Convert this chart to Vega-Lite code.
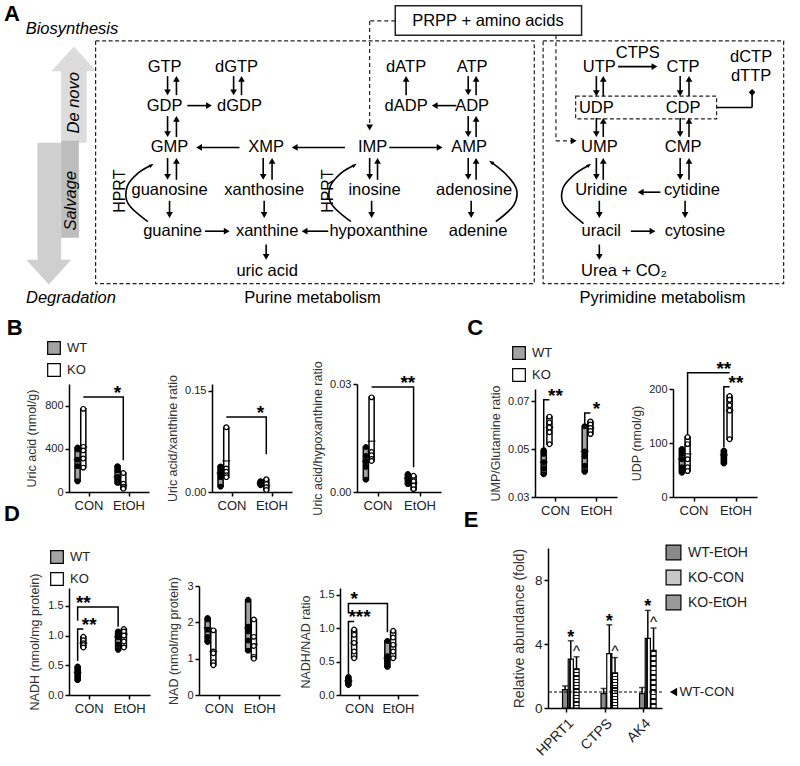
{
"$schema":"https://vega.github.io/schema/vega-lite/v6.json",
"background":"white",
"padding":0,
"config":{
 "view":{"stroke":null},
 "font":"Liberation Sans",
 "axis":{"domainColor":"black","domainWidth":1.5,"tickColor":"black","tickWidth":1.5,"tickSize":4,"labelColor":"#222","titleColor":"#333","labelFont":"Liberation Sans","titleFont":"Liberation Sans","titleFontWeight":"normal","grid":false,"labelFontSize":11,"titleFontSize":12.5},
 "legend":{"labelFontSize":13,"symbolType":"square","symbolSize":160,"symbolStrokeColor":"black","symbolStrokeWidth":1.2,"rowPadding":4,"padding":0,"labelFont":"Liberation Sans","labelColor":"#222","labelOffset":6},
 "tick":{"size":8}
},
"resolve":{"scale":{"fill":"independent","color":"independent","shape":"independent"},"legend":{"fill":"independent","color":"independent","shape":"independent"}},
"datasets":{
 "alabels":[
  {"k":"node","t":"GTP","x":167,"y":70},{"k":"node","t":"dGTP","x":240,"y":70},{"k":"node","t":"dATP","x":412,"y":70},{"k":"node","t":"ATP","x":479,"y":70},
  {"k":"node","t":"GDP","x":167,"y":111},{"k":"node","t":"dGDP","x":243,"y":111},{"k":"node","t":"dADP","x":412,"y":111},{"k":"node","t":"ADP","x":479,"y":111},
  {"k":"node","t":"GMP","x":172,"y":155},{"k":"node","t":"XMP","x":270,"y":155},{"k":"node","t":"IMP","x":378,"y":155},{"k":"node","t":"AMP","x":476,"y":155},
  {"k":"node","t":"guanosine","x":172,"y":200},{"k":"node","t":"xanthosine","x":268,"y":200},{"k":"node","t":"inosine","x":380,"y":200},{"k":"node","t":"adenosine","x":481,"y":200},
  {"k":"node","t":"guanine","x":175,"y":243},{"k":"node","t":"xanthine","x":271,"y":243},{"k":"node","t":"hypoxanthine","x":384,"y":243},{"k":"node","t":"adenine","x":485,"y":243},
  {"k":"node","t":"uric acid","x":271,"y":285},
  {"k":"node","t":"UTP","x":608,"y":70},{"k":"node","t":"CTP","x":693,"y":70},{"k":"node","t":"dCTP","x":762,"y":60},{"k":"node","t":"dTTP","x":762,"y":80},
  {"k":"node","t":"UDP","x":605,"y":113},{"k":"node","t":"CDP","x":693,"y":113},
  {"k":"node","t":"UMP","x":608,"y":155},{"k":"node","t":"CMP","x":693,"y":155},
  {"k":"node","t":"Uridine","x":610,"y":200},{"k":"node","t":"cytidine","x":702,"y":200},
  {"k":"node","t":"uracil","x":610,"y":243},{"k":"node","t":"cytosine","x":705,"y":243},
  {"k":"node","t":"Urea + CO₂","x":633,"y":285},
  {"k":"node","t":"CTPS","x":647,"y":56},
  {"k":"node","t":"PRPP + amino acids","x":495,"y":22},
  {"k":"node","t":"Purine metabolism","x":317,"y":313},
  {"k":"node","t":"Pyrimidine metabolism","x":672,"y":313},
  {"k":"ital","t":"Biosynthesis","x":73,"y":31},
  {"k":"ital","t":"Degradation","x":72,"y":313},
  {"k":"rotital","t":"De novo","x":75,"y":108},
  {"k":"rotital","t":"Salvage","x":72,"y":211},
  {"k":"rot","t":"HPRT","x":122,"y":201},
  {"k":"rot","t":"HPRT","x":333,"y":201},
  {"k":"letter","t":"A","x":12,"y":15},
  {"k":"letter","t":"B","x":15,"y":345},
  {"k":"letter","t":"C","x":482,"y":345},
  {"k":"letter","t":"D","x":12,"y":540},
  {"k":"letter","t":"E","x":478,"y":547}
 ],
 "shapes":[
  {"part":"biosynthesis","x":62,"x2":88,"y":74,"y2":150},
  {"part":"degradation","x":38,"x2":62,"y":150,"y2":274},
  {"part":"salvage","x":62,"x2":80,"y":148,"y2":250}
 ],
 "bighead":[{"part":"biosynthesis","x":75,"y":62},{"part":"degradation","x":49.5,"y":286}],
 "frames":[
  {"kind":"dashed","x":97,"x2":542,"y":43,"y2":298},
  {"kind":"dashed","x":551,"x2":795,"y":43,"y2":298},
  {"kind":"dashed","x":584,"x2":727,"y":101,"y2":125},
  {"kind":"solid","x":401,"x2":590,"y":6,"y2":37}
 ],
 "arrows":[
  {"x1":170,"y1":80,"x2":170,"y2":97,"dir":"down","ln":"solid"},{"x1":179,"y1":100,"x2":179,"y2":83,"dir":"up","ln":"solid"},
  {"x1":237,"y1":80,"x2":237,"y2":97,"dir":"down","ln":"solid"},{"x1":245,"y1":100,"x2":245,"y2":83,"dir":"up","ln":"solid"},
  {"x1":170,"y1":122,"x2":170,"y2":141,"dir":"down","ln":"solid"},{"x1":179,"y1":144,"x2":179,"y2":125,"dir":"up","ln":"solid"},
  {"x1":170,"y1":166,"x2":170,"y2":186,"dir":"down","ln":"solid"},{"x1":179,"y1":189,"x2":179,"y2":169,"dir":"up","ln":"solid"},
  {"x1":267,"y1":166,"x2":267,"y2":186,"dir":"down","ln":"solid"},{"x1":276,"y1":189,"x2":276,"y2":169,"dir":"up","ln":"solid"},
  {"x1":375,"y1":166,"x2":375,"y2":186,"dir":"down","ln":"solid"},{"x1":383,"y1":189,"x2":383,"y2":169,"dir":"up","ln":"solid"},
  {"x1":475,"y1":80,"x2":475,"y2":97,"dir":"down","ln":"solid"},{"x1":483,"y1":100,"x2":483,"y2":83,"dir":"up","ln":"solid"},
  {"x1":475,"y1":122,"x2":475,"y2":141,"dir":"down","ln":"solid"},{"x1":483,"y1":144,"x2":483,"y2":125,"dir":"up","ln":"solid"},
  {"x1":475,"y1":166,"x2":475,"y2":186,"dir":"down","ln":"solid"},{"x1":483,"y1":189,"x2":483,"y2":169,"dir":"up","ln":"solid"},
  {"x1":605,"y1":80,"x2":605,"y2":98,"dir":"down","ln":"solid"},{"x1":612,"y1":101,"x2":612,"y2":83,"dir":"up","ln":"solid"},
  {"x1":690,"y1":80,"x2":690,"y2":98,"dir":"down","ln":"solid"},{"x1":699,"y1":101,"x2":699,"y2":83,"dir":"up","ln":"solid"},
  {"x1":605,"y1":124,"x2":605,"y2":141,"dir":"down","ln":"solid"},{"x1":612,"y1":144,"x2":612,"y2":127,"dir":"up","ln":"solid"},
  {"x1":690,"y1":124,"x2":690,"y2":141,"dir":"down","ln":"solid"},{"x1":699,"y1":144,"x2":699,"y2":127,"dir":"up","ln":"solid"},
  {"x1":605,"y1":166,"x2":605,"y2":186,"dir":"down","ln":"solid"},{"x1":612,"y1":189,"x2":612,"y2":169,"dir":"up","ln":"solid"},
  {"x1":690,"y1":166,"x2":690,"y2":186,"dir":"down","ln":"solid"},{"x1":699,"y1":189,"x2":699,"y2":169,"dir":"up","ln":"solid"},
  {"x1":190,"y1":111,"x2":212,"y2":111,"dir":"right","ln":"solid"},
  {"x1":463,"y1":111,"x2":441,"y2":111,"dir":"left","ln":"solid"},
  {"x1":412,"y1":100,"x2":412,"y2":83,"dir":"up","ln":"solid"},
  {"x1":243,"y1":155,"x2":202,"y2":155,"dir":"left","ln":"solid"},
  {"x1":350,"y1":155,"x2":299,"y2":155,"dir":"left","ln":"solid"},
  {"x1":395,"y1":155,"x2":446,"y2":155,"dir":"right","ln":"solid"},
  {"x1":627,"y1":70,"x2":664,"y2":70,"dir":"right","ln":"solid"},
  {"x1":172,"y1":211,"x2":172,"y2":226,"dir":"down","ln":"solid"},
  {"x1":268,"y1":211,"x2":268,"y2":226,"dir":"down","ln":"solid"},
  {"x1":377,"y1":211,"x2":377,"y2":226,"dir":"down","ln":"solid"},
  {"x1":478,"y1":211,"x2":478,"y2":226,"dir":"down","ln":"solid"},
  {"x1":208,"y1":243,"x2":230,"y2":243,"dir":"right","ln":"solid"},
  {"x1":333,"y1":243,"x2":309,"y2":243,"dir":"left","ln":"solid"},
  {"x1":270,"y1":257,"x2":270,"y2":270,"dir":"down","ln":"solid"},
  {"x1":670,"y1":202,"x2":650,"y2":202,"dir":"left","ln":"solid"},
  {"x1":608,"y1":211,"x2":608,"y2":226,"dir":"down","ln":"solid"},
  {"x1":695,"y1":211,"x2":695,"y2":226,"dir":"down","ln":"solid"},
  {"x1":640,"y1":243,"x2":662,"y2":243,"dir":"right","ln":"solid"},
  {"x1":608,"y1":257,"x2":608,"y2":270,"dir":"down","ln":"solid"},
  {"x1":401,"y1":22,"x2":375,"y2":22,"dir":"none","ln":"dashed"},
  {"x1":375,"y1":22,"x2":375,"y2":134,"dir":"down","ln":"dashed"},
  {"x1":564,"y1":37,"x2":564,"y2":148,"dir":"none","ln":"dashed"},
  {"x1":564,"y1":148,"x2":582,"y2":148,"dir":"right","ln":"dashed"},
  {"x1":727,"y1":113,"x2":763,"y2":113,"dir":"none","ln":"solid"},
  {"x1":763,"y1":113,"x2":763,"y2":97,"dir":"diamond","ln":"solid"},
  {"x1":153,"y1":174,"x2":153,"y2":174,"dir":"ur","ln":"solid"},
  {"x1":359,"y1":174,"x2":359,"y2":174,"dir":"ur","ln":"solid"},
  {"x1":499,"y1":171,"x2":499,"y2":171,"dir":"ul","ln":"solid"},
  {"x1":597,"y1":174,"x2":597,"y2":174,"dir":"ur","ln":"solid"}
 ],
 "curves":[
  {"id":"c1","o":1,"x":150,"y":233},{"id":"c1","o":2,"x":130,"y":214},{"id":"c1","o":3,"x":129,"y":196},{"id":"c1","o":4,"x":140,"y":182},{"id":"c1","o":5,"x":153,"y":174},
  {"id":"c2","o":1,"x":356,"y":233},{"id":"c2","o":2,"x":336,"y":214},{"id":"c2","o":3,"x":335,"y":196},{"id":"c2","o":4,"x":346,"y":182},{"id":"c2","o":5,"x":359,"y":174},
  {"id":"c3","o":1,"x":503,"y":233},{"id":"c3","o":2,"x":521,"y":216},{"id":"c3","o":3,"x":524,"y":199},{"id":"c3","o":4,"x":514,"y":184},{"id":"c3","o":5,"x":499,"y":171},
  {"id":"c4","o":1,"x":592,"y":235},{"id":"c4","o":2,"x":572,"y":215},{"id":"c4","o":3,"x":571,"y":198},{"id":"c4","o":4,"x":582,"y":184},{"id":"c4","o":5,"x":597,"y":174}
 ],
 "box":[
  {"p":"B1","trt":"CON","geno":"WT","lo":99,"med":300,"hi":412},{"p":"B1","trt":"CON","geno":"KO","lo":226,"med":418,"hi":770},{"p":"B1","trt":"EtOH","geno":"WT","lo":84,"med":140,"hi":240},{"p":"B1","trt":"EtOH","geno":"KO","lo":31,"med":62,"hi":176},
  {"p":"B2","trt":"CON","geno":"WT","lo":0.008,"med":0.028,"hi":0.038},{"p":"B2","trt":"CON","geno":"KO","lo":0.022,"med":0.046,"hi":0.096},{"p":"B2","trt":"EtOH","geno":"WT","lo":0.010,"med":0.013,"hi":0.016},{"p":"B2","trt":"EtOH","geno":"KO","lo":0.003,"med":0.009,"hi":0.019},
  {"p":"B3","trt":"CON","geno":"WT","lo":0.0034,"med":0.0085,"hi":0.0125},{"p":"B3","trt":"CON","geno":"KO","lo":0.0086,"med":0.0141,"hi":0.0263},{"p":"B3","trt":"EtOH","geno":"WT","lo":0.0022,"med":0.0038,"hi":0.005},{"p":"B3","trt":"EtOH","geno":"KO","lo":0.0006,"med":0.0025,"hi":0.0045},
  {"p":"C1","trt":"CON","geno":"WT","lo":0.0395,"med":0.0445,"hi":0.0495},{"p":"C1","trt":"CON","geno":"KO","lo":0.052,"med":0.059,"hi":0.0635},{"p":"C1","trt":"EtOH","geno":"WT","lo":0.0405,"med":0.049,"hi":0.0595},{"p":"C1","trt":"EtOH","geno":"KO","lo":0.0562,"med":0.0588,"hi":0.0615},
  {"p":"C2","trt":"CON","geno":"WT","lo":45,"med":70,"hi":89},{"p":"C2","trt":"CON","geno":"KO","lo":48,"med":80,"hi":111},{"p":"C2","trt":"EtOH","geno":"WT","lo":62,"med":78,"hi":86},{"p":"C2","trt":"EtOH","geno":"KO","lo":107,"med":160,"hi":187},
  {"p":"D1","trt":"CON","geno":"WT","lo":0.25,"med":0.38,"hi":0.48},{"p":"D1","trt":"CON","geno":"KO","lo":0.80,"med":0.87,"hi":0.98},{"p":"D1","trt":"EtOH","geno":"WT","lo":0.76,"med":0.98,"hi":1.07},{"p":"D1","trt":"EtOH","geno":"KO","lo":0.80,"med":1.02,"hi":1.11},
  {"p":"D2","trt":"CON","geno":"WT","lo":1.46,"med":1.85,"hi":2.12},{"p":"D2","trt":"CON","geno":"KO","lo":0.82,"med":1.2,"hi":1.78},{"p":"D2","trt":"EtOH","geno":"WT","lo":1.22,"med":1.85,"hi":2.62},{"p":"D2","trt":"EtOH","geno":"KO","lo":1.0,"med":1.39,"hi":2.08},
  {"p":"D3","trt":"CON","geno":"WT","lo":0.15,"med":0.21,"hi":0.27},{"p":"D3","trt":"CON","geno":"KO","lo":0.55,"med":0.78,"hi":0.98},{"p":"D3","trt":"EtOH","geno":"WT","lo":0.42,"med":0.55,"hi":0.81},{"p":"D3","trt":"EtOH","geno":"KO","lo":0.55,"med":0.75,"hi":0.96}
 ],
 "pts":[
  {"p":"B1","trt":"CON","geno":"WT","v":412},{"p":"B1","trt":"CON","geno":"WT","v":395},{"p":"B1","trt":"CON","geno":"WT","v":300},{"p":"B1","trt":"CON","geno":"WT","v":240},{"p":"B1","trt":"CON","geno":"WT","v":99},
  {"p":"B1","trt":"CON","geno":"KO","v":770},{"p":"B1","trt":"CON","geno":"KO","v":418},{"p":"B1","trt":"CON","geno":"KO","v":385},{"p":"B1","trt":"CON","geno":"KO","v":310},{"p":"B1","trt":"CON","geno":"KO","v":226},
  {"p":"B1","trt":"EtOH","geno":"WT","v":240},{"p":"B1","trt":"EtOH","geno":"WT","v":200},{"p":"B1","trt":"EtOH","geno":"WT","v":140},{"p":"B1","trt":"EtOH","geno":"WT","v":120},{"p":"B1","trt":"EtOH","geno":"WT","v":84},
  {"p":"B1","trt":"EtOH","geno":"KO","v":176},{"p":"B1","trt":"EtOH","geno":"KO","v":77},{"p":"B1","trt":"EtOH","geno":"KO","v":50},{"p":"B1","trt":"EtOH","geno":"KO","v":35},{"p":"B1","trt":"EtOH","geno":"KO","v":31},
  {"p":"B2","trt":"CON","geno":"WT","v":0.038},{"p":"B2","trt":"CON","geno":"WT","v":0.032},{"p":"B2","trt":"CON","geno":"WT","v":0.026},{"p":"B2","trt":"CON","geno":"WT","v":0.022},{"p":"B2","trt":"CON","geno":"WT","v":0.008},
  {"p":"B2","trt":"CON","geno":"KO","v":0.096},{"p":"B2","trt":"CON","geno":"KO","v":0.035},{"p":"B2","trt":"CON","geno":"KO","v":0.030},{"p":"B2","trt":"CON","geno":"KO","v":0.025},{"p":"B2","trt":"CON","geno":"KO","v":0.022},
  {"p":"B2","trt":"EtOH","geno":"WT","v":0.016},{"p":"B2","trt":"EtOH","geno":"WT","v":0.014},{"p":"B2","trt":"EtOH","geno":"WT","v":0.013},{"p":"B2","trt":"EtOH","geno":"WT","v":0.012},{"p":"B2","trt":"EtOH","geno":"WT","v":0.010},
  {"p":"B2","trt":"EtOH","geno":"KO","v":0.019},{"p":"B2","trt":"EtOH","geno":"KO","v":0.012},{"p":"B2","trt":"EtOH","geno":"KO","v":0.007},{"p":"B2","trt":"EtOH","geno":"KO","v":0.003},
  {"p":"B3","trt":"CON","geno":"WT","v":0.0125},{"p":"B3","trt":"CON","geno":"WT","v":0.010},{"p":"B3","trt":"CON","geno":"WT","v":0.0085},{"p":"B3","trt":"CON","geno":"WT","v":0.007},{"p":"B3","trt":"CON","geno":"WT","v":0.0034},
  {"p":"B3","trt":"CON","geno":"KO","v":0.0263},{"p":"B3","trt":"CON","geno":"KO","v":0.0111},{"p":"B3","trt":"CON","geno":"KO","v":0.0102},{"p":"B3","trt":"CON","geno":"KO","v":0.0092},{"p":"B3","trt":"CON","geno":"KO","v":0.0086},
  {"p":"B3","trt":"EtOH","geno":"WT","v":0.005},{"p":"B3","trt":"EtOH","geno":"WT","v":0.0045},{"p":"B3","trt":"EtOH","geno":"WT","v":0.0038},{"p":"B3","trt":"EtOH","geno":"WT","v":0.003},{"p":"B3","trt":"EtOH","geno":"WT","v":0.0022},
  {"p":"B3","trt":"EtOH","geno":"KO","v":0.0045},{"p":"B3","trt":"EtOH","geno":"KO","v":0.003},{"p":"B3","trt":"EtOH","geno":"KO","v":0.0018},{"p":"B3","trt":"EtOH","geno":"KO","v":0.0008},
  {"p":"C1","trt":"CON","geno":"WT","v":0.0495},{"p":"C1","trt":"CON","geno":"WT","v":0.048},{"p":"C1","trt":"CON","geno":"WT","v":0.0445},{"p":"C1","trt":"CON","geno":"WT","v":0.042},{"p":"C1","trt":"CON","geno":"WT","v":0.0395},
  {"p":"C1","trt":"CON","geno":"KO","v":0.0635},{"p":"C1","trt":"CON","geno":"KO","v":0.061},{"p":"C1","trt":"CON","geno":"KO","v":0.059},{"p":"C1","trt":"CON","geno":"KO","v":0.057},{"p":"C1","trt":"CON","geno":"KO","v":0.052},
  {"p":"C1","trt":"EtOH","geno":"WT","v":0.0595},{"p":"C1","trt":"EtOH","geno":"WT","v":0.049},{"p":"C1","trt":"EtOH","geno":"WT","v":0.047},{"p":"C1","trt":"EtOH","geno":"WT","v":0.043},{"p":"C1","trt":"EtOH","geno":"WT","v":0.0405},
  {"p":"C1","trt":"EtOH","geno":"KO","v":0.0615},{"p":"C1","trt":"EtOH","geno":"KO","v":0.0602},{"p":"C1","trt":"EtOH","geno":"KO","v":0.0588},{"p":"C1","trt":"EtOH","geno":"KO","v":0.0575},{"p":"C1","trt":"EtOH","geno":"KO","v":0.0562},
  {"p":"C2","trt":"CON","geno":"WT","v":89},{"p":"C2","trt":"CON","geno":"WT","v":80},{"p":"C2","trt":"CON","geno":"WT","v":70},{"p":"C2","trt":"CON","geno":"WT","v":55},{"p":"C2","trt":"CON","geno":"WT","v":45},
  {"p":"C2","trt":"CON","geno":"KO","v":111},{"p":"C2","trt":"CON","geno":"KO","v":98},{"p":"C2","trt":"CON","geno":"KO","v":70},{"p":"C2","trt":"CON","geno":"KO","v":55},{"p":"C2","trt":"CON","geno":"KO","v":48},
  {"p":"C2","trt":"EtOH","geno":"WT","v":86},{"p":"C2","trt":"EtOH","geno":"WT","v":82},{"p":"C2","trt":"EtOH","geno":"WT","v":78},{"p":"C2","trt":"EtOH","geno":"WT","v":70},{"p":"C2","trt":"EtOH","geno":"WT","v":62},
  {"p":"C2","trt":"EtOH","geno":"KO","v":187},{"p":"C2","trt":"EtOH","geno":"KO","v":180},{"p":"C2","trt":"EtOH","geno":"KO","v":170},{"p":"C2","trt":"EtOH","geno":"KO","v":160},{"p":"C2","trt":"EtOH","geno":"KO","v":107},
  {"p":"D1","trt":"CON","geno":"WT","v":0.48},{"p":"D1","trt":"CON","geno":"WT","v":0.45},{"p":"D1","trt":"CON","geno":"WT","v":0.38},{"p":"D1","trt":"CON","geno":"WT","v":0.32},{"p":"D1","trt":"CON","geno":"WT","v":0.25},
  {"p":"D1","trt":"CON","geno":"KO","v":0.98},{"p":"D1","trt":"CON","geno":"KO","v":0.92},{"p":"D1","trt":"CON","geno":"KO","v":0.87},{"p":"D1","trt":"CON","geno":"KO","v":0.84},{"p":"D1","trt":"CON","geno":"KO","v":0.80},
  {"p":"D1","trt":"EtOH","geno":"WT","v":1.07},{"p":"D1","trt":"EtOH","geno":"WT","v":0.99},{"p":"D1","trt":"EtOH","geno":"WT","v":0.97},{"p":"D1","trt":"EtOH","geno":"WT","v":0.85},{"p":"D1","trt":"EtOH","geno":"WT","v":0.76},
  {"p":"D1","trt":"EtOH","geno":"KO","v":1.11},{"p":"D1","trt":"EtOH","geno":"KO","v":1.07},{"p":"D1","trt":"EtOH","geno":"KO","v":1.0},{"p":"D1","trt":"EtOH","geno":"KO","v":0.9},{"p":"D1","trt":"EtOH","geno":"KO","v":0.8},
  {"p":"D2","trt":"CON","geno":"WT","v":2.12},{"p":"D2","trt":"CON","geno":"WT","v":2.08},{"p":"D2","trt":"CON","geno":"WT","v":1.8},{"p":"D2","trt":"CON","geno":"WT","v":1.6},{"p":"D2","trt":"CON","geno":"WT","v":1.46},
  {"p":"D2","trt":"CON","geno":"KO","v":1.78},{"p":"D2","trt":"CON","geno":"KO","v":1.2},{"p":"D2","trt":"CON","geno":"KO","v":1.15},{"p":"D2","trt":"CON","geno":"KO","v":0.9},{"p":"D2","trt":"CON","geno":"KO","v":0.82},
  {"p":"D2","trt":"EtOH","geno":"WT","v":2.62},{"p":"D2","trt":"EtOH","geno":"WT","v":1.88},{"p":"D2","trt":"EtOH","geno":"WT","v":1.75},{"p":"D2","trt":"EtOH","geno":"WT","v":1.5},{"p":"D2","trt":"EtOH","geno":"WT","v":1.22},
  {"p":"D2","trt":"EtOH","geno":"KO","v":2.08},{"p":"D2","trt":"EtOH","geno":"KO","v":1.6},{"p":"D2","trt":"EtOH","geno":"KO","v":1.35},{"p":"D2","trt":"EtOH","geno":"KO","v":1.05},{"p":"D2","trt":"EtOH","geno":"KO","v":1.0},
  {"p":"D3","trt":"CON","geno":"WT","v":0.27},{"p":"D3","trt":"CON","geno":"WT","v":0.23},{"p":"D3","trt":"CON","geno":"WT","v":0.21},{"p":"D3","trt":"CON","geno":"WT","v":0.19},{"p":"D3","trt":"CON","geno":"WT","v":0.15},
  {"p":"D3","trt":"CON","geno":"KO","v":0.98},{"p":"D3","trt":"CON","geno":"KO","v":0.9},{"p":"D3","trt":"CON","geno":"KO","v":0.78},{"p":"D3","trt":"CON","geno":"KO","v":0.65},{"p":"D3","trt":"CON","geno":"KO","v":0.55},
  {"p":"D3","trt":"EtOH","geno":"WT","v":0.81},{"p":"D3","trt":"EtOH","geno":"WT","v":0.58},{"p":"D3","trt":"EtOH","geno":"WT","v":0.52},{"p":"D3","trt":"EtOH","geno":"WT","v":0.46},{"p":"D3","trt":"EtOH","geno":"WT","v":0.42},
  {"p":"D3","trt":"EtOH","geno":"KO","v":0.96},{"p":"D3","trt":"EtOH","geno":"KO","v":0.86},{"p":"D3","trt":"EtOH","geno":"KO","v":0.75},{"p":"D3","trt":"EtOH","geno":"KO","v":0.65},{"p":"D3","trt":"EtOH","geno":"KO","v":0.55}
 ],
 "br":[
  {"p":"B1","id":"a","o":1,"trt":"CON","geno":"KO","y":880},{"p":"B1","id":"a","o":2,"trt":"EtOH","geno":"KO","y":880},{"p":"B1","id":"a","o":3,"trt":"EtOH","geno":"KO","y":294},
  {"p":"B2","id":"a","o":1,"trt":"CON","geno":"KO","y":0.111},{"p":"B2","id":"a","o":2,"trt":"EtOH","geno":"KO","y":0.111},{"p":"B2","id":"a","o":3,"trt":"EtOH","geno":"KO","y":0.056},
  {"p":"B3","id":"a","o":1,"trt":"CON","geno":"KO","y":0.0292},{"p":"B3","id":"a","o":2,"trt":"EtOH","geno":"KO","y":0.0292},{"p":"B3","id":"a","o":3,"trt":"EtOH","geno":"KO","y":0.0069},
  {"p":"C1","id":"a","o":1,"trt":"CON","geno":"WT","y":0.0505},{"p":"C1","id":"a","o":2,"trt":"CON","geno":"WT","y":0.0705},{"p":"C1","id":"a","o":3,"trt":"CON","geno":"KO","y":0.0705},
  {"p":"C1","id":"b","o":1,"trt":"EtOH","geno":"WT","y":0.0605},{"p":"C1","id":"b","o":2,"trt":"EtOH","geno":"WT","y":0.065},{"p":"C1","id":"b","o":3,"trt":"EtOH","geno":"KO","y":0.065},
  {"p":"C2","id":"a","o":1,"trt":"CON","geno":"KO","y":116},{"p":"C2","id":"a","o":2,"trt":"CON","geno":"KO","y":230},{"p":"C2","id":"a","o":3,"trt":"EtOH","geno":"KO","y":230},
  {"p":"C2","id":"b","o":1,"trt":"EtOH","geno":"WT","y":92},{"p":"C2","id":"b","o":2,"trt":"EtOH","geno":"WT","y":204},{"p":"C2","id":"b","o":3,"trt":"EtOH","geno":"KO","y":204},
  {"p":"D1","id":"a","o":1,"trt":"CON","geno":"WT","y":0.57},{"p":"D1","id":"a","o":2,"trt":"CON","geno":"WT","y":1.11},{"p":"D1","id":"a","o":3,"trt":"CON","geno":"KO","y":1.11},
  {"p":"D1","id":"b","o":1,"trt":"CON","geno":"WT","y":1.25},{"p":"D1","id":"b","o":2,"trt":"CON","geno":"WT","y":1.48},{"p":"D1","id":"b","o":3,"trt":"EtOH","geno":"WT","y":1.48},{"p":"D1","id":"b","o":4,"trt":"EtOH","geno":"WT","y":1.15},
  {"p":"D3","id":"a","o":1,"trt":"CON","geno":"WT","y":0.30},{"p":"D3","id":"a","o":2,"trt":"CON","geno":"WT","y":1.10},{"p":"D3","id":"a","o":3,"trt":"CON","geno":"KO","y":1.10},
  {"p":"D3","id":"b","o":1,"trt":"CON","geno":"WT","y":1.22},{"p":"D3","id":"b","o":2,"trt":"CON","geno":"WT","y":1.37},{"p":"D3","id":"b","o":3,"trt":"EtOH","geno":"WT","y":1.37},{"p":"D3","id":"b","o":4,"trt":"EtOH","geno":"WT","y":0.94}
 ],
 "sig":[
  {"p":"B1","trt":"EtOH","geno":"WT","y":880,"s":"*"},
  {"p":"B2","trt":"EtOH","geno":"WT","y":0.111,"s":"*"},
  {"p":"B3","trt":"EtOH","geno":"WT","y":0.0292,"s":"**"},
  {"p":"C1","trt":"CON","geno":null,"y":0.0705,"s":"**"},
  {"p":"C1","trt":"EtOH","geno":null,"y":0.065,"s":"*"},
  {"p":"C2","trt":"EtOH","geno":"WT","y":230,"s":"**"},
  {"p":"C2","trt":"EtOH","geno":null,"y":204,"s":"**"},
  {"p":"D1","trt":"CON","geno":null,"y":1.11,"s":"**"},
  {"p":"D1","trt":"CON","geno":"KO","y":1.48,"s":"**"},
  {"p":"D3","trt":"CON","geno":null,"y":1.10,"s":"***"},
  {"p":"D3","trt":"CON","geno":"KO","y":1.37,"s":"*"}
 ],
 "e":[
  {"gene":"HPRT1","grp":"WT-EtOH","mean":1.15,"up":1.38},{"gene":"HPRT1","grp":"KO-CON","mean":3.05,"up":4.2},{"gene":"HPRT1","grp":"KO-EtOH","mean":2.45,"up":3.2},
  {"gene":"CTPS","grp":"WT-EtOH","mean":0.9,"up":1.22},{"gene":"CTPS","grp":"KO-CON","mean":3.4,"up":5.2},{"gene":"CTPS","grp":"KO-EtOH","mean":2.2,"up":3.15},
  {"gene":"AK4","grp":"WT-EtOH","mean":0.9,"up":1.28},{"gene":"AK4","grp":"KO-CON","mean":4.35,"up":6.1},{"gene":"AK4","grp":"KO-EtOH","mean":3.6,"up":5.0}
 ],
 "esig":[
  {"gene":"HPRT1","grp":"KO-CON","y":4.2,"s":"*"},{"gene":"CTPS","grp":"KO-CON","y":5.2,"s":"*"},{"gene":"AK4","grp":"KO-CON","y":6.1,"s":"*"},
  {"gene":"HPRT1","grp":"KO-EtOH","y":3.4,"s":"^"},{"gene":"CTPS","grp":"KO-EtOH","y":3.35,"s":"^"},{"gene":"AK4","grp":"KO-EtOH","y":5.2,"s":"^"}
 ]
},
"columns":10,
"spacing":{"row":51,"column":0},
"align":"each",
"bounds":"flush",
"concat":[
 {"width":69,"height":333,
  "layer":[
   {"data":{"name":"shapes"},"mark":{"type":"rect"},
    "encoding":{"x":{"field":"x","type":"quantitative","scale":{"domain":[0,69]},"axis":null},"x2":{"field":"x2"},
     "y":{"field":"y","type":"quantitative","scale":{"domain":[0,333],"reverse":true},"axis":null},"y2":{"field":"y2"},
     "color":{"field":"part","type":"nominal","scale":{"domain":["biosynthesis","degradation","salvage"],"range":["#dcdcdc","#cfcfcf","#bdbdbd"]},"legend":null}}},
   {"data":{"name":"bighead"},"transform":[{"filter":"datum.part==='biosynthesis'"}],"mark":{"type":"point","filled":true,"opacity":1,"size":2025,"color":"#dcdcdc","shape":"M-1,0.55L0,-0.55L1,0.55Z"},
    "encoding":{"x":{"field":"x","type":"quantitative"},"y":{"field":"y","type":"quantitative"}}},
   {"data":{"name":"bighead"},"transform":[{"filter":"datum.part==='degradation'"}],"mark":{"type":"point","filled":true,"opacity":1,"size":2025,"color":"#cfcfcf","shape":"M-1,-0.55L0,0.55L1,-0.55Z"},
    "encoding":{"x":{"field":"x","type":"quantitative"},"y":{"field":"y","type":"quantitative"}}},
   {"data":{"name":"frames"},"transform":[{"filter":"datum.kind==='dashed'"}],"mark":{"type":"rect","fillOpacity":0,"stroke":"#222","strokeWidth":1.2,"strokeDash":[4,2.5]},
    "encoding":{"x":{"field":"x","type":"quantitative"},"x2":{"field":"x2"},"y":{"field":"y","type":"quantitative"},"y2":{"field":"y2"}}},
   {"data":{"name":"frames"},"transform":[{"filter":"datum.kind==='solid'"}],"mark":{"type":"rect","fillOpacity":0,"stroke":"#222","strokeWidth":1.5},
    "encoding":{"x":{"field":"x","type":"quantitative"},"x2":{"field":"x2"},"y":{"field":"y","type":"quantitative"},"y2":{"field":"y2"}}},
   {"data":{"name":"arrows"},"transform":[{"filter":"datum.ln==='solid'"}],"mark":{"type":"rule","color":"black","strokeWidth":1.6},
    "encoding":{"x":{"field":"x1","type":"quantitative"},"x2":{"field":"x2"},"y":{"field":"y1","type":"quantitative"},"y2":{"field":"y2"}}},
   {"data":{"name":"arrows"},"transform":[{"filter":"datum.ln==='dashed'"}],"mark":{"type":"rule","color":"#222","strokeWidth":1.2,"strokeDash":[4,3]},
    "encoding":{"x":{"field":"x1","type":"quantitative"},"x2":{"field":"x2"},"y":{"field":"y1","type":"quantitative"},"y2":{"field":"y2"}}},
   {"data":{"name":"curves"},"mark":{"type":"line","color":"black","strokeWidth":1.6,"interpolate":"cardinal"},
    "encoding":{"x":{"field":"x","type":"quantitative"},"y":{"field":"y","type":"quantitative"},"detail":{"field":"id"},"order":{"field":"o"}}},
   {"data":{"name":"arrows"},"transform":[{"filter":"datum.dir!=='none'"}],"mark":{"type":"point","filled":true,"opacity":1,"color":"black","size":45},
    "encoding":{"x":{"field":"x2","type":"quantitative"},"y":{"field":"y2","type":"quantitative"},
     "shape":{"field":"dir","type":"nominal","scale":{"domain":["down","up","left","right","ur","ul","diamond"],"range":["triangle-down","triangle-up","triangle-left","triangle-right","M0.83,-0.56L-0.11,0.74L-0.73,-0.18Z","M-0.83,-0.56L0.11,0.74L0.73,-0.18Z","diamond"]},"legend":null}}},
   {"data":{"name":"alabels"},"transform":[{"filter":"datum.k==='node'"}],"mark":{"type":"text","fontSize":16.5,"align":"center","baseline":"middle","fill":"black"},
    "encoding":{"x":{"field":"x","type":"quantitative"},"y":{"field":"y","type":"quantitative"},"text":{"field":"t"}}},
   {"data":{"name":"alabels"},"transform":[{"filter":"datum.k==='ital'"}],"mark":{"type":"text","fontSize":16.5,"fontStyle":"italic","align":"center","baseline":"middle","fill":"black"},
    "encoding":{"x":{"field":"x","type":"quantitative"},"y":{"field":"y","type":"quantitative"},"text":{"field":"t"}}},
   {"data":{"name":"alabels"},"transform":[{"filter":"datum.k==='rotital'"}],"mark":{"type":"text","fontSize":16.5,"fontStyle":"italic","angle":270,"align":"center","baseline":"middle","fill":"black"},
    "encoding":{"x":{"field":"x","type":"quantitative"},"y":{"field":"y","type":"quantitative"},"text":{"field":"t"}}},
   {"data":{"name":"alabels"},"transform":[{"filter":"datum.k==='rot'"}],"mark":{"type":"text","fontSize":16,"angle":270,"align":"center","baseline":"middle","fill":"black"},
    "encoding":{"x":{"field":"x","type":"quantitative"},"y":{"field":"y","type":"quantitative"},"text":{"field":"t"}}},
   {"data":{"name":"alabels"},"transform":[{"filter":"datum.k==='letter'"}],"mark":{"type":"text","fontSize":22,"fontWeight":"bold","align":"center","baseline":"middle","fill":"black"},
    "encoding":{"x":{"field":"x","type":"quantitative"},"y":{"field":"y","type":"quantitative"},"text":{"field":"t"}}}
  ]},
 {"width":1,"height":1,"data":{"values":[]},"mark":"point","encoding":{}},
 {"width":1,"height":1,"data":{"values":[]},"mark":"point","encoding":{}},
 {"width":1,"height":1,"data":{"values":[]},"mark":"point","encoding":{}},
 {"width":1,"height":1,"data":{"values":[]},"mark":"point","encoding":{}},
 {"width":1,"height":1,"data":{"values":[]},"mark":"point","encoding":{}},
 {"width":1,"height":1,"data":{"values":[]},"mark":"point","encoding":{}},
 {"width":1,"height":1,"data":{"values":[]},"mark":"point","encoding":{}},
 {"width":1,"height":1,"data":{"values":[]},"mark":"point","encoding":{}},
 {"width":1,"height":1,"data":{"values":[]},"mark":"point","encoding":{}},

 {"width":69,"height":1,"data":{"values":[]},"mark":"point","encoding":{}},
 {"width":80,"height":108,
  "layer":[
   {"data":{"name":"box"},"transform":[{"filter":"datum.p==='B1'"}],"mark":{"type":"bar","stroke":"black","strokeWidth":1.5},
    "encoding":{"x":{"field":"trt","type":"nominal","scale":{"domain":["CON","EtOH"],"paddingInner":0.3,"paddingOuter":0.15},"axis":{"title":null,"labelAngle":0,"labelFontSize":13,"labelPadding":3}},
     "xOffset":{"field":"geno","type":"nominal","scale":{"domain":["WT","KO"],"paddingInner":0.1,"paddingOuter":0,"range":[0,28]}},
     "y":{"field":"lo","type":"quantitative","scale":{"domain":[0,1000]},"axis":{"title":"Uric acid (nmol/g)","values":[0,200,400,600,800,1000],"format":"d","titlePadding":6}},
     "y2":{"field":"hi"},
     "fill":{"field":"geno","type":"nominal","scale":{"domain":["WT","KO"],"range":["#a3a3a3","white"]},"legend":{"orient":"none","legendX":-22,"legendY":-43,"title":null}}}},
   {"data":{"name":"box"},"transform":[{"filter":"datum.p==='B1'"}],"mark":{"type":"tick","color":"black","thickness":1.5},
    "encoding":{"x":{"field":"trt","type":"nominal"},"xOffset":{"field":"geno","type":"nominal"},"y":{"field":"med","type":"quantitative"}}},
   {"data":{"name":"pts"},"transform":[{"filter":"datum.p==='B1'"}],"mark":{"type":"point","filled":true,"size":22,"stroke":"black","strokeWidth":1.2,"opacity":1},
    "encoding":{"x":{"field":"trt","type":"nominal"},"xOffset":{"field":"geno","type":"nominal"},"y":{"field":"v","type":"quantitative"},"fill":{"condition":{"test":"datum.geno==='WT'","value":"black"},"value":"white"}}},
   {"data":{"name":"br"},"transform":[{"filter":"datum.p==='B1'"}],"mark":{"type":"line","color":"black","strokeWidth":1.5},
    "encoding":{"x":{"field":"trt","type":"nominal"},"xOffset":{"field":"geno","type":"nominal"},"y":{"field":"y","type":"quantitative"},"detail":{"field":"id"},"order":{"field":"o"}}},
   {"data":{"name":"sig"},"transform":[{"filter":"datum.p==='B1' && datum.geno"}],"mark":{"type":"text","fontSize":19,"fontWeight":"bold","dy":2,"baseline":"alphabetic","align":"center"},
    "encoding":{"x":{"field":"trt","type":"nominal"},"xOffset":{"field":"geno","type":"nominal"},"y":{"field":"y","type":"quantitative"},"text":{"field":"s"}}}
  ]},
 {"width":55,"height":1,"data":{"values":[]},"mark":"point","encoding":{}},
 {"width":80,"height":108,
  "layer":[
   {"data":{"name":"box"},"transform":[{"filter":"datum.p==='B2'"}],"mark":{"type":"bar","stroke":"black","strokeWidth":1.5},
    "encoding":{"x":{"field":"trt","type":"nominal","scale":{"domain":["CON","EtOH"],"paddingInner":0.3,"paddingOuter":0.15,"range":[7,87]},"axis":{"title":null,"labelAngle":0,"labelFontSize":13,"labelPadding":3}},
     "xOffset":{"field":"geno","type":"nominal","scale":{"domain":["WT","KO"],"paddingInner":0.1,"paddingOuter":0,"range":[0,28]}},
     "y":{"field":"lo","type":"quantitative","scale":{"domain":[0,0.15]},"axis":{"title":"Uric acid/xanthine ratio","values":[0,0.05,0.1,0.15],"format":".2f","titlePadding":5,"offset":-7}},
     "y2":{"field":"hi"},
     "fill":{"field":"geno","type":"nominal","scale":{"domain":["WT","KO"],"range":["#a3a3a3","white"]},"legend":null}}},
   {"data":{"name":"box"},"transform":[{"filter":"datum.p==='B2'"}],"mark":{"type":"tick","color":"black","thickness":1.5},
    "encoding":{"x":{"field":"trt","type":"nominal"},"xOffset":{"field":"geno","type":"nominal"},"y":{"field":"med","type":"quantitative"}}},
   {"data":{"name":"pts"},"transform":[{"filter":"datum.p==='B2'"}],"mark":{"type":"point","filled":true,"size":22,"stroke":"black","strokeWidth":1.2,"opacity":1},
    "encoding":{"x":{"field":"trt","type":"nominal"},"xOffset":{"field":"geno","type":"nominal"},"y":{"field":"v","type":"quantitative"},"fill":{"condition":{"test":"datum.geno==='WT'","value":"black"},"value":"white"}}},
   {"data":{"name":"br"},"transform":[{"filter":"datum.p==='B2'"}],"mark":{"type":"line","color":"black","strokeWidth":1.5},
    "encoding":{"x":{"field":"trt","type":"nominal"},"xOffset":{"field":"geno","type":"nominal"},"y":{"field":"y","type":"quantitative"},"detail":{"field":"id"},"order":{"field":"o"}}},
   {"data":{"name":"sig"},"transform":[{"filter":"datum.p==='B2' && datum.geno"}],"mark":{"type":"text","fontSize":19,"fontWeight":"bold","dy":2,"baseline":"alphabetic","align":"center"},
    "encoding":{"x":{"field":"trt","type":"nominal"},"xOffset":{"field":"geno","type":"nominal"},"y":{"field":"y","type":"quantitative"},"text":{"field":"s"}}}
  ]},
 {"width":63,"height":1,"data":{"values":[]},"mark":"point","encoding":{}},
 {"width":84,"height":108,
  "layer":[
   {"data":{"name":"box"},"transform":[{"filter":"datum.p==='B3'"}],"mark":{"type":"bar","stroke":"black","strokeWidth":1.5},
    "encoding":{"x":{"field":"trt","type":"nominal","scale":{"domain":["CON","EtOH"],"paddingInner":0.3,"paddingOuter":0.15,"range":[8,92]},"axis":{"title":null,"labelAngle":0,"labelFontSize":13,"labelPadding":3}},
     "xOffset":{"field":"geno","type":"nominal","scale":{"domain":["WT","KO"],"paddingInner":0.1,"paddingOuter":0,"range":[0,29.4]}},
     "y":{"field":"lo","type":"quantitative","scale":{"domain":[0,0.03]},"axis":{"title":"Uric acid/hypoxanthine ratio","values":[0,0.01,0.02,0.03],"format":".2f","titlePadding":5,"offset":-8}},
     "y2":{"field":"hi"},
     "fill":{"field":"geno","type":"nominal","scale":{"domain":["WT","KO"],"range":["#a3a3a3","white"]},"legend":null}}},
   {"data":{"name":"box"},"transform":[{"filter":"datum.p==='B3'"}],"mark":{"type":"tick","color":"black","thickness":1.5},
    "encoding":{"x":{"field":"trt","type":"nominal"},"xOffset":{"field":"geno","type":"nominal"},"y":{"field":"med","type":"quantitative"}}},
   {"data":{"name":"pts"},"transform":[{"filter":"datum.p==='B3'"}],"mark":{"type":"point","filled":true,"size":22,"stroke":"black","strokeWidth":1.2,"opacity":1},
    "encoding":{"x":{"field":"trt","type":"nominal"},"xOffset":{"field":"geno","type":"nominal"},"y":{"field":"v","type":"quantitative"},"fill":{"condition":{"test":"datum.geno==='WT'","value":"black"},"value":"white"}}},
   {"data":{"name":"br"},"transform":[{"filter":"datum.p==='B3'"}],"mark":{"type":"line","color":"black","strokeWidth":1.5},
    "encoding":{"x":{"field":"trt","type":"nominal"},"xOffset":{"field":"geno","type":"nominal"},"y":{"field":"y","type":"quantitative"},"detail":{"field":"id"},"order":{"field":"o"}}},
   {"data":{"name":"sig"},"transform":[{"filter":"datum.p==='B3' && datum.geno"}],"mark":{"type":"text","fontSize":19,"fontWeight":"bold","dy":2,"baseline":"alphabetic","align":"center"},
    "encoding":{"x":{"field":"trt","type":"nominal"},"xOffset":{"field":"geno","type":"nominal"},"y":{"field":"y","type":"quantitative"},"text":{"field":"s"}}}
  ]},
 {"width":115,"height":1,"data":{"values":[]},"mark":"point","encoding":{}},
 {"width":82,"height":113,
  "layer":[
   {"data":{"name":"box"},"transform":[{"filter":"datum.p==='C1'"}],"mark":{"type":"bar","stroke":"black","strokeWidth":1.5},
    "encoding":{"x":{"field":"trt","type":"nominal","scale":{"domain":["CON","EtOH"],"paddingInner":0.3,"paddingOuter":0.15,"range":[-13,69]},"axis":{"title":null,"labelAngle":0,"labelFontSize":13,"labelPadding":3}},
     "xOffset":{"field":"geno","type":"nominal","scale":{"domain":["WT","KO"],"paddingInner":0.1,"paddingOuter":0,"range":[0,28.7]}},
     "y":{"field":"lo","type":"quantitative","scale":{"domain":[0.03,0.07],"range":[113,5]},"axis":{"title":"UMP/Glutamine ratio","values":[0.03,0.04,0.05,0.06,0.07],"format":".2f","titlePadding":5,"offset":13}},
     "y2":{"field":"hi"},
     "fill":{"field":"geno","type":"nominal","scale":{"domain":["WT","KO"],"range":["#a3a3a3","white"]},"legend":{"orient":"none","legendX":-36,"legendY":-38,"title":null}}}},
   {"data":{"name":"box"},"transform":[{"filter":"datum.p==='C1'"}],"mark":{"type":"tick","color":"black","thickness":1.5},
    "encoding":{"x":{"field":"trt","type":"nominal"},"xOffset":{"field":"geno","type":"nominal"},"y":{"field":"med","type":"quantitative"}}},
   {"data":{"name":"pts"},"transform":[{"filter":"datum.p==='C1'"}],"mark":{"type":"point","filled":true,"size":22,"stroke":"black","strokeWidth":1.2,"opacity":1},
    "encoding":{"x":{"field":"trt","type":"nominal"},"xOffset":{"field":"geno","type":"nominal"},"y":{"field":"v","type":"quantitative"},"fill":{"condition":{"test":"datum.geno==='WT'","value":"black"},"value":"white"}}},
   {"data":{"name":"br"},"transform":[{"filter":"datum.p==='C1'"}],"mark":{"type":"line","color":"black","strokeWidth":1.5},
    "encoding":{"x":{"field":"trt","type":"nominal"},"xOffset":{"field":"geno","type":"nominal"},"y":{"field":"y","type":"quantitative"},"detail":{"field":"id"},"order":{"field":"o"}}},
   {"data":{"name":"sig"},"transform":[{"filter":"datum.p==='C1' && !datum.geno"}],"mark":{"type":"text","fontSize":19,"fontWeight":"bold","dy":2,"baseline":"alphabetic","align":"center"},
    "encoding":{"x":{"field":"trt","type":"nominal"},"y":{"field":"y","type":"quantitative"},"text":{"field":"s"}}}
  ]},
 {"width":11,"height":1,"data":{"values":[]},"mark":"point","encoding":{}},
 {"width":84,"height":113,
  "layer":[
   {"data":{"name":"box"},"transform":[{"filter":"datum.p==='C2'"}],"mark":{"type":"bar","stroke":"black","strokeWidth":1.5},
    "encoding":{"x":{"field":"trt","type":"nominal","scale":{"domain":["CON","EtOH"],"paddingInner":0.3,"paddingOuter":0.15},"axis":{"title":null,"labelAngle":0,"labelFontSize":13,"labelPadding":3}},
     "xOffset":{"field":"geno","type":"nominal","scale":{"domain":["WT","KO"],"paddingInner":0.1,"paddingOuter":0,"range":[0,29.4]}},
     "y":{"field":"lo","type":"quantitative","scale":{"domain":[0,200],"range":[113,5]},"axis":{"title":"UDP (nmol/g)","values":[0,50,100,150,200],"format":"d","titlePadding":5}},
     "y2":{"field":"hi"},
     "fill":{"field":"geno","type":"nominal","scale":{"domain":["WT","KO"],"range":["#a3a3a3","white"]},"legend":null}}},
   {"data":{"name":"box"},"transform":[{"filter":"datum.p==='C2'"}],"mark":{"type":"tick","color":"black","thickness":1.5},
    "encoding":{"x":{"field":"trt","type":"nominal"},"xOffset":{"field":"geno","type":"nominal"},"y":{"field":"med","type":"quantitative"}}},
   {"data":{"name":"pts"},"transform":[{"filter":"datum.p==='C2'"}],"mark":{"type":"point","filled":true,"size":22,"stroke":"black","strokeWidth":1.2,"opacity":1},
    "encoding":{"x":{"field":"trt","type":"nominal"},"xOffset":{"field":"geno","type":"nominal"},"y":{"field":"v","type":"quantitative"},"fill":{"condition":{"test":"datum.geno==='WT'","value":"black"},"value":"white"}}},
   {"data":{"name":"br"},"transform":[{"filter":"datum.p==='C2'"}],"mark":{"type":"line","color":"black","strokeWidth":1.5},
    "encoding":{"x":{"field":"trt","type":"nominal"},"xOffset":{"field":"geno","type":"nominal"},"y":{"field":"y","type":"quantitative"},"detail":{"field":"id"},"order":{"field":"o"}}},
   {"data":{"name":"sig"},"transform":[{"filter":"datum.p==='C2' && datum.geno"}],"mark":{"type":"text","fontSize":19,"fontWeight":"bold","dy":2,"baseline":"alphabetic","align":"center"},
    "encoding":{"x":{"field":"trt","type":"nominal"},"xOffset":{"field":"geno","type":"nominal"},"y":{"field":"y","type":"quantitative"},"text":{"field":"s"}}},
   {"data":{"name":"sig"},"transform":[{"filter":"datum.p==='C2' && !datum.geno"}],"mark":{"type":"text","fontSize":19,"fontWeight":"bold","dy":2,"baseline":"alphabetic","align":"center"},
    "encoding":{"x":{"field":"trt","type":"nominal"},"y":{"field":"y","type":"quantitative"},"text":{"field":"s"}}}
  ]},

 {"width":69,"height":1,"data":{"values":[]},"mark":"point","encoding":{}},
 {"width":81,"height":147,
  "layer":[
   {"data":{"name":"box"},"transform":[{"filter":"datum.p==='D1'"}],"mark":{"type":"bar","stroke":"black","strokeWidth":1.5},
    "encoding":{"x":{"field":"trt","type":"nominal","scale":{"domain":["CON","EtOH"],"paddingInner":0.3,"paddingOuter":0.15},"axis":{"title":null,"labelAngle":0,"labelFontSize":13,"labelPadding":3}},
     "xOffset":{"field":"geno","type":"nominal","scale":{"domain":["WT","KO"],"paddingInner":0.1,"paddingOuter":0,"range":[0,28.35]}},
     "y":{"field":"lo","type":"quantitative","scale":{"domain":[0,1.8],"range":[147,40]},"axis":{"title":"NADH (nmol/mg protein)","values":[0,0.5,1,1.5],"format":".1f","titlePadding":6}},
     "y2":{"field":"hi"},
     "fill":{"field":"geno","type":"nominal","scale":{"domain":["WT","KO"],"range":["#a3a3a3","white"]},"legend":{"orient":"none","legendX":-19,"legendY":2,"title":null}}}},
   {"data":{"name":"box"},"transform":[{"filter":"datum.p==='D1'"}],"mark":{"type":"tick","color":"black","thickness":1.5},
    "encoding":{"x":{"field":"trt","type":"nominal"},"xOffset":{"field":"geno","type":"nominal"},"y":{"field":"med","type":"quantitative"}}},
   {"data":{"name":"pts"},"transform":[{"filter":"datum.p==='D1'"}],"mark":{"type":"point","filled":true,"size":22,"stroke":"black","strokeWidth":1.2,"opacity":1},
    "encoding":{"x":{"field":"trt","type":"nominal"},"xOffset":{"field":"geno","type":"nominal"},"y":{"field":"v","type":"quantitative"},"fill":{"condition":{"test":"datum.geno==='WT'","value":"black"},"value":"white"}}},
   {"data":{"name":"br"},"transform":[{"filter":"datum.p==='D1'"}],"mark":{"type":"line","color":"black","strokeWidth":1.5},
    "encoding":{"x":{"field":"trt","type":"nominal"},"xOffset":{"field":"geno","type":"nominal"},"y":{"field":"y","type":"quantitative"},"detail":{"field":"id"},"order":{"field":"o"}}},
   {"data":{"name":"sig"},"transform":[{"filter":"datum.p==='D1' && datum.geno"}],"mark":{"type":"text","fontSize":19,"fontWeight":"bold","dy":2,"baseline":"alphabetic","align":"center"},
    "encoding":{"x":{"field":"trt","type":"nominal"},"xOffset":{"field":"geno","type":"nominal"},"y":{"field":"y","type":"quantitative"},"text":{"field":"s"}}},
   {"data":{"name":"sig"},"transform":[{"filter":"datum.p==='D1' && !datum.geno"}],"mark":{"type":"text","fontSize":19,"fontWeight":"bold","dy":2,"baseline":"alphabetic","align":"center"},
    "encoding":{"x":{"field":"trt","type":"nominal"},"y":{"field":"y","type":"quantitative"},"text":{"field":"s"}}}
  ]},
 {"width":55,"height":1,"data":{"values":[]},"mark":"point","encoding":{}},
 {"width":81,"height":147,
  "layer":[
   {"data":{"name":"box"},"transform":[{"filter":"datum.p==='D2'"}],"mark":{"type":"bar","stroke":"black","strokeWidth":1.5},
    "encoding":{"x":{"field":"trt","type":"nominal","scale":{"domain":["CON","EtOH"],"paddingInner":0.3,"paddingOuter":0.15,"range":[-6,75]},"axis":{"title":null,"labelAngle":0,"labelFontSize":13,"labelPadding":3}},
     "xOffset":{"field":"geno","type":"nominal","scale":{"domain":["WT","KO"],"paddingInner":0.1,"paddingOuter":0,"range":[0,28.35]}},
     "y":{"field":"lo","type":"quantitative","scale":{"domain":[0,3],"range":[147,38]},"axis":{"title":"NAD (nmol/mg protein)","values":[0,1,2,3],"format":"d","titlePadding":6,"offset":6}},
     "y2":{"field":"hi"},
     "fill":{"field":"geno","type":"nominal","scale":{"domain":["WT","KO"],"range":["#a3a3a3","white"]},"legend":null}}},
   {"data":{"name":"box"},"transform":[{"filter":"datum.p==='D2'"}],"mark":{"type":"tick","color":"black","thickness":1.5},
    "encoding":{"x":{"field":"trt","type":"nominal"},"xOffset":{"field":"geno","type":"nominal"},"y":{"field":"med","type":"quantitative"}}},
   {"data":{"name":"pts"},"transform":[{"filter":"datum.p==='D2'"}],"mark":{"type":"point","filled":true,"size":22,"stroke":"black","strokeWidth":1.2,"opacity":1},
    "encoding":{"x":{"field":"trt","type":"nominal"},"xOffset":{"field":"geno","type":"nominal"},"y":{"field":"v","type":"quantitative"},"fill":{"condition":{"test":"datum.geno==='WT'","value":"black"},"value":"white"}}}
  ]},
 {"width":63,"height":1,"data":{"values":[]},"mark":"point","encoding":{}},
 {"width":78,"height":147,
  "layer":[
   {"data":{"name":"box"},"transform":[{"filter":"datum.p==='D3'"}],"mark":{"type":"bar","stroke":"black","strokeWidth":1.5},
    "encoding":{"x":{"field":"trt","type":"nominal","scale":{"domain":["CON","EtOH"],"paddingInner":0.3,"paddingOuter":0.15,"range":[-9,69]},"axis":{"title":null,"labelAngle":0,"labelFontSize":13,"labelPadding":3}},
     "xOffset":{"field":"geno","type":"nominal","scale":{"domain":["WT","KO"],"paddingInner":0.1,"paddingOuter":0,"range":[0,27.3]}},
     "y":{"field":"lo","type":"quantitative","scale":{"domain":[0,1.5],"range":[147,40]},"axis":{"title":"NADH/NAD ratio","values":[0,0.5,1,1.5],"format":".1f","titlePadding":6,"offset":9}},
     "y2":{"field":"hi"},
     "fill":{"field":"geno","type":"nominal","scale":{"domain":["WT","KO"],"range":["#a3a3a3","white"]},"legend":null}}},
   {"data":{"name":"box"},"transform":[{"filter":"datum.p==='D3'"}],"mark":{"type":"tick","color":"black","thickness":1.5},
    "encoding":{"x":{"field":"trt","type":"nominal"},"xOffset":{"field":"geno","type":"nominal"},"y":{"field":"med","type":"quantitative"}}},
   {"data":{"name":"pts"},"transform":[{"filter":"datum.p==='D3'"}],"mark":{"type":"point","filled":true,"size":22,"stroke":"black","strokeWidth":1.2,"opacity":1},
    "encoding":{"x":{"field":"trt","type":"nominal"},"xOffset":{"field":"geno","type":"nominal"},"y":{"field":"v","type":"quantitative"},"fill":{"condition":{"test":"datum.geno==='WT'","value":"black"},"value":"white"}}},
   {"data":{"name":"br"},"transform":[{"filter":"datum.p==='D3'"}],"mark":{"type":"line","color":"black","strokeWidth":1.5},
    "encoding":{"x":{"field":"trt","type":"nominal"},"xOffset":{"field":"geno","type":"nominal"},"y":{"field":"y","type":"quantitative"},"detail":{"field":"id"},"order":{"field":"o"}}},
   {"data":{"name":"sig"},"transform":[{"filter":"datum.p==='D3' && datum.geno"}],"mark":{"type":"text","fontSize":19,"fontWeight":"bold","dy":2,"baseline":"alphabetic","align":"center"},
    "encoding":{"x":{"field":"trt","type":"nominal"},"xOffset":{"field":"geno","type":"nominal"},"y":{"field":"y","type":"quantitative"},"text":{"field":"s"}}},
   {"data":{"name":"sig"},"transform":[{"filter":"datum.p==='D3' && !datum.geno"}],"mark":{"type":"text","fontSize":19,"fontWeight":"bold","dy":2,"baseline":"alphabetic","align":"center"},
    "encoding":{"x":{"field":"trt","type":"nominal"},"y":{"field":"y","type":"quantitative"},"text":{"field":"s"}}}
  ]},
 {"width":115,"height":1,"data":{"values":[]},"mark":"point","encoding":{}},
 {"width":114,"height":160,
  "layer":[
   {"data":{"name":"e"},"transform":[{"filter":"datum.grp==='WT-EtOH'"}],"mark":{"type":"bar","stroke":"black","strokeWidth":1.2},
    "encoding":{"x":{"field":"gene","type":"nominal","scale":{"domain":["HPRT1","CTPS","AK4"],"paddingInner":0.2,"paddingOuter":0.08},"axis":{"title":null,"labelAngle":-45,"labelFontSize":14,"labelPadding":4}},
     "xOffset":{"field":"grp","type":"nominal","scale":{"domain":["WT-EtOH","KO-CON","KO-EtOH"],"paddingInner":0.08,"paddingOuter":0,"range":[0,30.8]}},
     "y":{"field":"mean","type":"quantitative","scale":{"domain":[0,10]},"axis":{"title":"Relative abundance (fold)","values":[0,2,4,6,8,10],"labelFontSize":13.5,"titleFontSize":14,"titlePadding":8}},
     "fill":{"field":"grp","type":"nominal","scale":{"domain":["WT-EtOH","KO-CON","KO-EtOH"],"range":["#8a8a8a","#c8c8c8","#9a9a9a"]},
      "legend":{"orient":"none","legendX":117,"legendY":-4,"title":null,"labelFontSize":14,"symbolSize":220,"rowPadding":4}}}},
   {"data":{"name":"e"},"transform":[{"filter":"datum.grp==='KO-CON'"}],"mark":{"type":"bar","stroke":"black","strokeWidth":1.2,
     "fill":{"gradient":"linear","x1":0,"y1":0,"x2":1,"y2":0,"stops":[{"offset":0,"color":"white"},{"offset":0.16,"color":"white"},{"offset":0.16,"color":"#111"},{"offset":0.25,"color":"#111"},{"offset":0.25,"color":"white"},{"offset":0.41,"color":"white"},{"offset":0.41,"color":"#111"},{"offset":0.5,"color":"#111"},{"offset":0.5,"color":"white"},{"offset":0.66,"color":"white"},{"offset":0.66,"color":"#111"},{"offset":0.75,"color":"#111"},{"offset":0.75,"color":"white"},{"offset":0.91,"color":"white"},{"offset":0.91,"color":"#111"},{"offset":1,"color":"#111"}]}},
    "encoding":{"x":{"field":"gene","type":"nominal"},"xOffset":{"field":"grp","type":"nominal"},"y":{"field":"mean","type":"quantitative"}}},
   {"data":{"name":"e"},"transform":[{"filter":"datum.grp==='KO-EtOH'"}],"mark":{"type":"bar","stroke":"black","strokeWidth":1.2,
     "fill":{"gradient":"linear","x1":0,"y1":0,"x2":0,"y2":1,"stops":[{"offset":0,"color":"#111"},{"offset":0.03,"color":"#111"},{"offset":0.03,"color":"white"},{"offset":0.0833,"color":"white"},{"offset":0.0833,"color":"#111"},{"offset":0.1133,"color":"#111"},{"offset":0.1133,"color":"white"},{"offset":0.1667,"color":"white"},{"offset":0.1667,"color":"#111"},{"offset":0.1967,"color":"#111"},{"offset":0.1967,"color":"white"},{"offset":0.25,"color":"white"},{"offset":0.25,"color":"#111"},{"offset":0.28,"color":"#111"},{"offset":0.28,"color":"white"},{"offset":0.3333,"color":"white"},{"offset":0.3333,"color":"#111"},{"offset":0.3633,"color":"#111"},{"offset":0.3633,"color":"white"},{"offset":0.4167,"color":"white"},{"offset":0.4167,"color":"#111"},{"offset":0.4467,"color":"#111"},{"offset":0.4467,"color":"white"},{"offset":0.5,"color":"white"},{"offset":0.5,"color":"#111"},{"offset":0.53,"color":"#111"},{"offset":0.53,"color":"white"},{"offset":0.5833,"color":"white"},{"offset":0.5833,"color":"#111"},{"offset":0.6133,"color":"#111"},{"offset":0.6133,"color":"white"},{"offset":0.6667,"color":"white"},{"offset":0.6667,"color":"#111"},{"offset":0.6967,"color":"#111"},{"offset":0.6967,"color":"white"},{"offset":0.75,"color":"white"},{"offset":0.75,"color":"#111"},{"offset":0.78,"color":"#111"},{"offset":0.78,"color":"white"},{"offset":0.8333,"color":"white"},{"offset":0.8333,"color":"#111"},{"offset":0.8633,"color":"#111"},{"offset":0.8633,"color":"white"},{"offset":0.9167,"color":"white"},{"offset":0.9167,"color":"#111"},{"offset":0.9467,"color":"#111"},{"offset":0.9467,"color":"white"},{"offset":1,"color":"white"}]}},
    "encoding":{"x":{"field":"gene","type":"nominal"},"xOffset":{"field":"grp","type":"nominal"},"y":{"field":"mean","type":"quantitative"}}},
   {"data":{"name":"e"},"mark":{"type":"rule","color":"black","strokeWidth":1.5},
    "encoding":{"x":{"field":"gene","type":"nominal"},"xOffset":{"field":"grp","type":"nominal"},"y":{"field":"mean","type":"quantitative"},"y2":{"field":"up"}}},
   {"data":{"name":"e"},"mark":{"type":"tick","color":"black","thickness":1.5,"size":6},
    "encoding":{"x":{"field":"gene","type":"nominal"},"xOffset":{"field":"grp","type":"nominal"},"y":{"field":"up","type":"quantitative"}}},
   {"data":{"values":[{}]},"mark":{"type":"rule","color":"black","strokeWidth":1,"strokeDash":[3,2]},
    "encoding":{"y":{"datum":1}}},
   {"data":{"name":"esig"},"transform":[{"filter":"datum.s==='*'"}],"mark":{"type":"text","fontSize":18,"fontWeight":"bold","dy":2,"baseline":"alphabetic","align":"center"},
    "encoding":{"x":{"field":"gene","type":"nominal"},"xOffset":{"field":"grp","type":"nominal"},"y":{"field":"y","type":"quantitative"},"text":{"field":"s"}}},
   {"data":{"name":"esig"},"transform":[{"filter":"datum.s==='^'"}],"mark":{"type":"text","fontSize":15,"dy":2,"baseline":"alphabetic","align":"center"},
    "encoding":{"x":{"field":"gene","type":"nominal"},"xOffset":{"field":"grp","type":"nominal"},"y":{"field":"y","type":"quantitative"},"text":{"field":"s"}}},
   {"data":{"values":[{}]},"mark":{"type":"point","shape":"triangle-left","filled":true,"opacity":1,"color":"black","size":70,"xOffset":30},
    "encoding":{"x":{"datum":"AK4"},"y":{"datum":1}}},
   {"data":{"values":[{}]},"mark":{"type":"text","align":"left","baseline":"middle","dx":36,"fontSize":13.5,"fill":"#222"},
    "encoding":{"x":{"datum":"AK4"},"y":{"datum":1},"text":{"value":"WT-CON"}}}
  ]},
 {"width":1,"height":1,"data":{"values":[]},"mark":"point","encoding":{}},
 {"width":1,"height":1,"data":{"values":[]},"mark":"point","encoding":{}}
]
}
